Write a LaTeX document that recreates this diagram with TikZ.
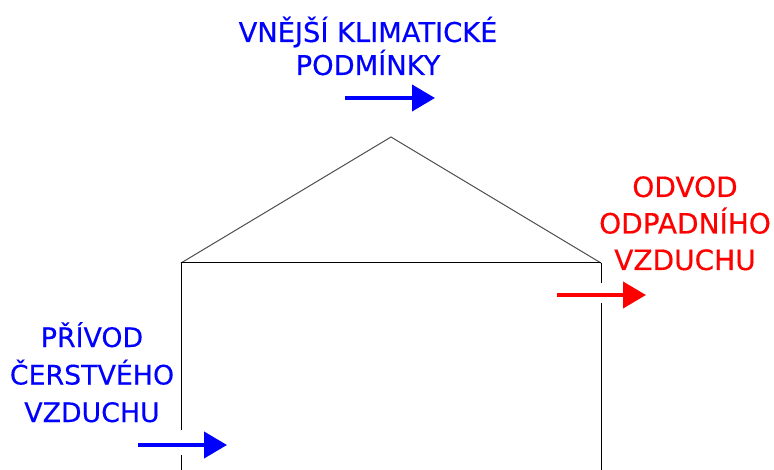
\documentclass[tikz,border=0pt]{standalone}
\usepackage{fontspec}
\setmainfont{DejaVu Sans}
\newfontfamily\lblfont[FakeBold=0.4]{DejaVu Sans}
\usetikzlibrary{arrows.meta}
\definecolor{myblue}{RGB}{0,0,255}
\definecolor{myred}{RGB}{255,0,0}
\tikzset{
  wall/.style={draw=black, line width=1pt},
  roof/.style={draw=black!70, line width=1pt},
  flow/.style={line width=4pt, -{Triangle[length=23pt,width=26pt]}},
  lbl/.style={align=center, inner sep=0pt, anchor=base}
}
\begin{document}
\begin{tikzpicture}[x=1pt,y=-1pt]
\useasboundingbox (0,0) rectangle (774,470);
% house
\draw[roof] (181,263) -- (391,137) -- (601,263);
\draw[wall] (181,263) -- (601,263);
\draw[wall] (181,263) -- (181,430);
\draw[wall] (181,455) -- (181,470);
\draw[wall] (601,263) -- (601,283);
\draw[wall] (601,303) -- (601,470);
% labels (base anchor = baseline of last line)
\node[lbl, text=myblue, font=\lblfont\fontsize{27.3}{33}\selectfont] (ext) at (368,75) {VNĚJŠÍ KLIMATICKÉ\\PODMÍNKY};
\node[lbl, text=myred, font=\lblfont\fontsize{28}{36.5}\selectfont] (out) at (685,270) {ODVOD\\ODPADNÍHO\\VZDUCHU};
\node[lbl, text=myblue, font=\lblfont\fontsize{26.8}{37.5}\selectfont] (in) at (92,422) {PŘÍVOD\\ČERSTVÉHO\\VZDUCHU};
% arrows
\coordinate (a1) at (345,98); \coordinate (a2) at (435,98);
\coordinate (b1) at (557,295); \coordinate (b2) at (646,295);
\coordinate (c1) at (138,445); \coordinate (c2) at (227,445);
\draw[flow, myblue] (a1) -- (a2);
\draw[flow, myred] (b1) -- (b2);
\draw[flow, myblue] (c1) -- (c2);
\end{tikzpicture}
\end{document}
